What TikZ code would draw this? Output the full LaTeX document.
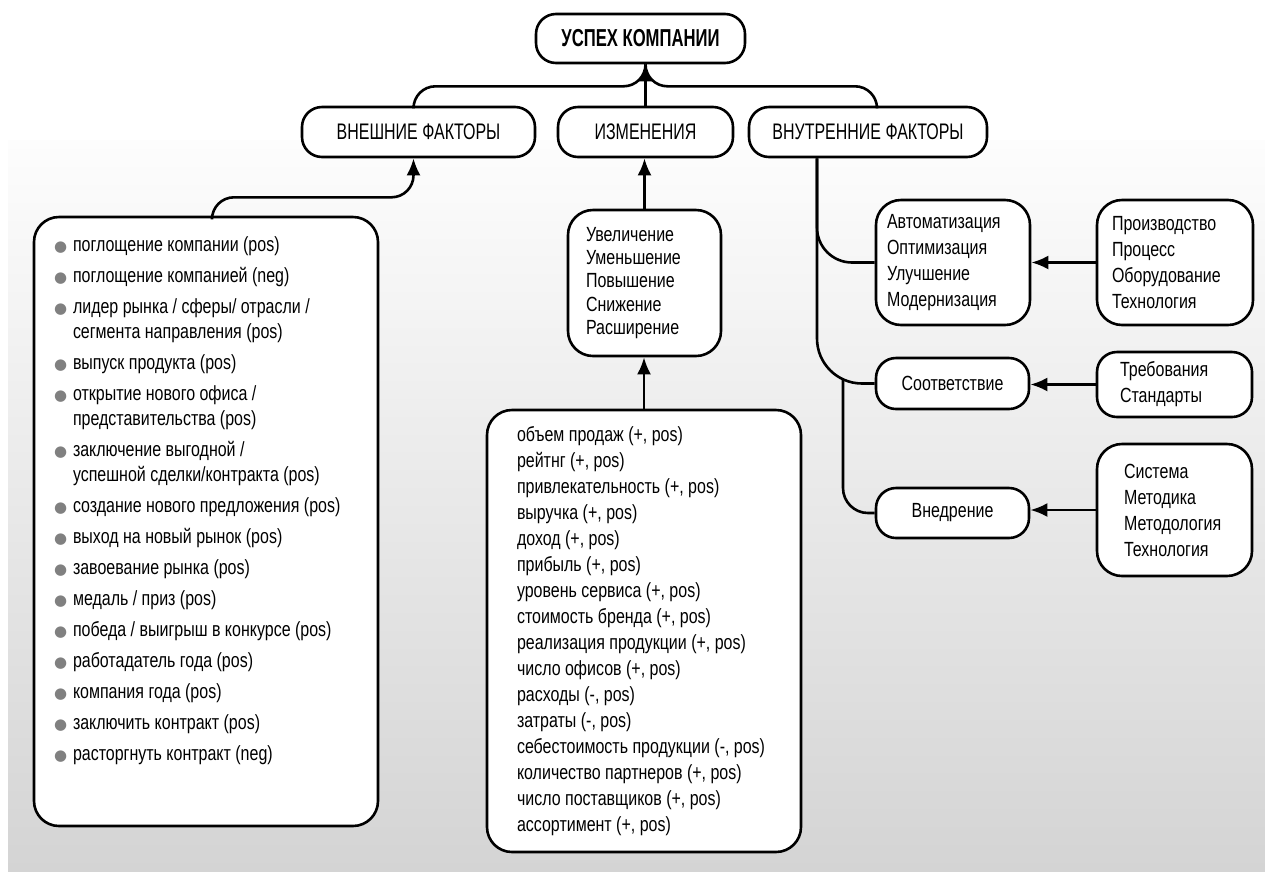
\documentclass[tikz,border=0pt]{standalone}
\usepackage{fontspec}
\setmainfont{Liberation Sans}[FakeStretch=0.78]
\newfontfamily\capsfont{Liberation Sans}[FakeStretch=0.71]
\newfontfamily\headfont{Liberation Sans}[FakeStretch=0.68]
\newfontfamily\dotfont{DejaVu Sans}
\usetikzlibrary{arrows.meta,calc}
\definecolor{bgtop}{RGB}{253,253,253}
\definecolor{bgbottom}{RGB}{212,212,212}
\definecolor{dotgray}{RGB}{128,128,128}
\def\listfont{\fontsize{20.5}{26}\selectfont}
\newcommand{\dotitem}[1]{\par\hangindent=19pt\hangafter=1\noindent\makebox[19pt][l]{\dotfont\fontsize{15}{15}\selectfont\textcolor{dotgray}{●}}#1}
\tikzset{
	roundbox/.style={draw, line width=2.6pt, fill=white, rounded corners=20pt, inner sep=0pt, font=\listfont},
	headbox/.style={roundbox, minimum height=50pt, font=\capsfont\fontsize{22.5}{22.5}\selectfont},
	listbox/.style={roundbox, rounded corners=25pt, align=flush left},
	link/.style={line width=2.6pt},
	linkarrow/.style={link, -{Latex[length=17pt,width=14pt]}},
}

\begin{document}
\begin{tikzpicture}[x=1pt,y=1pt,yscale=-1,xscale=1]
	\useasboundingbox (0,0) rectangle (1265,871);
	\shade[top color=bgtop, bottom color=bgbottom] (8,140) rectangle (1265,871);
	% top levels
	\node (title) at (640.5,38.5) [roundbox, minimum width=209pt, minimum height=49pt, font=\headfont\bfseries\fontsize{24.5}{24.5}\selectfont] {УСПЕХ КОМПАНИИ};
	\node (ext) at (418.5,132) [headbox, minimum width=233pt] {ВНЕШНИЕ ФАКТОРЫ};
	\node (izm) at (645.5,132) [headbox, minimum width=175pt] {ИЗМЕНЕНИЯ};
	\node (intf) at (868,132) [headbox, minimum width=238pt] {ВНУТРЕННИЕ ФАКТОРЫ};
	% external factors
	\node (lst) at (206,521.5) [roundbox, rounded corners=25pt, inner sep=20pt] {\parbox[c][569pt][t]{304pt}{\fontsize{20.5}{25}\selectfont\setlength{\parskip}{6pt}%
		\dotitem{поглощение компании (pos)}
		\dotitem{поглощение компанией (neg)}
		\dotitem{лидер рынка / сферы/ отрасли /\\сегмента направления (pos)}
		\dotitem{выпуск продукта (pos)}
		\dotitem{открытие нового офиса /\\представительства (pos)}
		\dotitem{заключение выгодной /\\успешной сделки/контракта (pos)}
		\dotitem{создание нового предложения (pos)}
		\dotitem{выход на новый рынок (pos)}
		\dotitem{завоевание рынка (pos)}
		\dotitem{медаль / приз (pos)}
		\dotitem{победа / выигрыш в конкурсе (pos)}
		\dotitem{работадатель года (pos)}
		\dotitem{компания года (pos)}
		\dotitem{заключить контракт (pos)}
		\dotitem{расторгнуть контракт (neg)}}};
	% changes
	\node (chg) at (644.5,283) [listbox, minimum width=153pt, minimum height=146pt, text width=117pt, inner xsep=18pt, font=\fontsize{20.5}{23.3}\selectfont] {Увеличение\\Уменьшение\\Повышение\\Снижение\\Расширение};
	\node (kpi) at (644,631) [listbox, minimum width=314pt, minimum height=442pt, text width=254pt, inner xsep=30pt] {объем продаж (+, pos)\\рейтнг (+, pos)\\привлекательность (+, pos)\\выручка (+, pos)\\доход (+, pos)\\прибыль (+, pos)\\уровень сервиса (+, pos)\\стоимость бренда (+, pos)\\реализация продукции (+, pos)\\число офисов (+, pos)\\расходы (-, pos)\\затраты (-, pos)\\себестоимость продукции (-, pos)\\количество партнеров (+, pos)\\число поставщиков (+, pos)\\ассортимент (+, pos)};
	% internal factors
	\node (auto) at (953,262.5) [listbox, minimum height=125pt, text width=132pt, inner xsep=11pt] {Автоматизация\\Оптимизация\\Улучшение\\Модернизация};
	\node (prod) at (1175,262.5) [listbox, minimum height=125pt, text width=126pt, inner xsep=15pt] {Производство\\Процесс\\Оборудование\\Технология};
	\node (corr) at (952.5,383.5) [roundbox, minimum width=153pt, minimum height=51pt] {Соответствие};
	\node (req) at (1174.5,384.5) [listbox, rounded corners=20pt, minimum height=65pt, text width=109pt, inner xsep=23pt] {Требования\\Стандарты};
	\node (impl) at (952.5,513) [roundbox, minimum width=153pt, minimum height=50pt] {Внедрение};
	\node (sys) at (1174.5,510) [listbox, minimum height=132pt, text width=101pt, inner xsep=27pt] {Система\\Методика\\Методология\\Технология};
	% connectors
	\coordinate (join) at (izm.north |- title.south);
	\draw[link, rounded corners=22pt] ($(ext.north)+(-5,0)$) |- ($(join)+(0,22)$) -- (join);
	\draw[link, rounded corners=22pt] ($(intf.north)+(9,0)$) |- ($(join)+(0,22)$) -- (join);
	\draw[linkarrow] (izm.north) -- (join);
	\draw[linkarrow, rounded corners=22pt] ($(lst.north)+(6,0)$) |- ($(ext.south)+(-5,39)$) -- ($(ext.south)+(-5,0)$);
	\draw[linkarrow] (chg.north) -- (chg.north |- izm.south);
	\draw[linkarrow] (kpi.north) -- (kpi.north |- chg.south);
	\coordinate (trunk) at ($(intf.south)+(-51,0)$);
	\draw[link, rounded corners=35pt] (trunk) |- (auto.west);
	\draw[link, rounded corners=45pt] (trunk) |- (corr.west);
	\coordinate (fork) at ($(trunk)+(26,221)$);
	\draw[link, rounded corners=25pt] (fork) |- (impl.west);
	\draw[linkarrow] (prod.west) -- (prod.west -| auto.east);
	\draw[linkarrow] (req.west) -- (req.west -| corr.east);
	\draw[linkarrow] (sys.west) -- (sys.west -| impl.east);
\end{tikzpicture}
\end{document}
